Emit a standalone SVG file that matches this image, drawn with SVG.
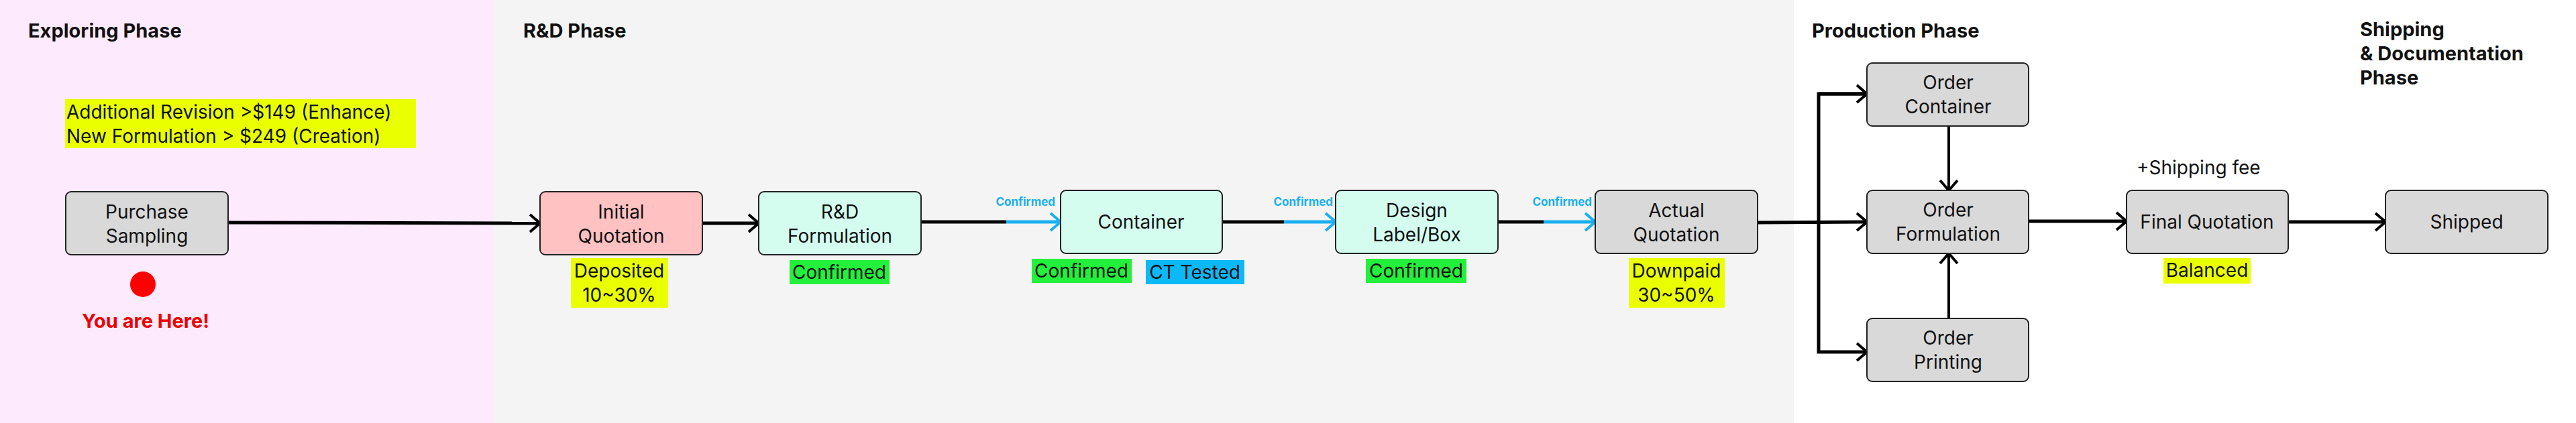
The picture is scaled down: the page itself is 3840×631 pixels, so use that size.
<svg xmlns="http://www.w3.org/2000/svg" width="3840" height="631" viewBox="0 0 3840 631">
<style>
text{font-family:Inter,"Noto Sans","Liberation Sans",sans-serif}
.ph{font-size:29px;font-weight:700;fill:#111}
.box{stroke:#222;stroke-width:2}
.g{fill:#d9d9d9}.m{fill:#d4fdf0}.p{fill:#ffc1c1}
.t{font-size:28px;fill:#111;text-anchor:middle}
.hl{font-size:28px;fill:#111}
.c{stroke:#000;stroke-width:5;fill:none}
.cb{stroke:#1ab0ef;stroke-width:5;fill:none}
.cf{font-size:17px;font-weight:700;fill:#1ab0ef;text-anchor:end}
</style>
<defs>
<marker id="a" viewBox="0 0 20 30" refX="18" refY="15" markerWidth="20" markerHeight="30" markerUnits="userSpaceOnUse" orient="auto"><path d="M3 2 L18 15 L3 28" fill="none" stroke="#000" stroke-width="4"/></marker>
<marker id="ab" viewBox="0 0 20 30" refX="18" refY="15" markerWidth="20" markerHeight="30" markerUnits="userSpaceOnUse" orient="auto"><path d="M3 2 L18 15 L3 28" fill="none" stroke="#1ab0ef" stroke-width="4"/></marker>
</defs>
<rect x="0" y="0" width="737" height="631" fill="#fdeafd"/>
<rect x="737" y="0" width="1937" height="631" fill="#f4f4f4"/>
<rect x="2674" y="0" width="1166" height="631" fill="#ffffff"/>
<g id="phases">
<text class="ph" x="42" y="56">Exploring Phase</text>
<text class="ph" x="780" y="56">R&amp;D Phase</text>
<text class="ph" x="2701" y="56">Production Phase</text>
<text class="ph" x="3518" y="54">Shipping</text>
<text class="ph" x="3518" y="90">&amp; Documentation</text>
<text class="ph" x="3518" y="126">Phase</text>
</g>
<g id="pricing">
<rect x="97" y="148" width="523" height="73" fill="#eaff00"/>
<text class="hl" x="99" y="177">Additional Revision &gt;$149 (Enhance)</text>
<text class="hl" x="99" y="213">New Formulation &gt; $249 (Creation)</text>
</g>
<g id="connectors">
<path class="c" d="M340 332 L805 333" marker-end="url(#a)"/>
<path class="c" d="M1047 333 L1131 333" marker-end="url(#a)"/>
<path class="c" d="M1373 331 L1500 331"/><path class="cb" d="M1500 331 L1581 331" marker-end="url(#ab)"/>
<path class="c" d="M1822 331 L1914 331"/><path class="cb" d="M1914 331 L1991 331" marker-end="url(#ab)"/>
<path class="c" d="M2233 331 L2301 331"/><path class="cb" d="M2301 331 L2378 331" marker-end="url(#ab)"/>
<path class="c" d="M2620 332 L2783 331" marker-end="url(#a)"/>
<path class="c" d="M2783 140 L2711 140 L2711 525 L2783 525" marker-end="url(#a)"/>
<path class="c" d="M2711 140 L2783 140" marker-end="url(#a)"/>
<path stroke="#000" stroke-width="4" fill="none" d="M2905 188 L2905 284" marker-end="url(#a)"/>
<path stroke="#000" stroke-width="4" fill="none" d="M2905 475 L2905 378" marker-end="url(#a)"/>
<path class="c" d="M3024 330 L3170 330" marker-end="url(#a)"/>
<path class="c" d="M3411 331 L3556 331" marker-end="url(#a)"/>
<text class="cf" x="1573" y="307">Confirmed</text>
<text class="cf" x="1987" y="307">Confirmed</text>
<text class="cf" x="2373" y="307">Confirmed</text>
</g>
<g id="purchase"><rect class="box g" x="98" y="286" width="242" height="94" rx="8"/>
<text class="t" x="219" y="326">Purchase</text><text class="t" x="219" y="362">Sampling</text>
<circle cx="213" cy="424" r="19" fill="#f00"/>
<text x="217" y="489" font-size="29" font-weight="700" fill="#e00" text-anchor="middle">You are Here!</text></g>
<g id="initial"><rect class="box p" x="805" y="286" width="242" height="94" rx="8"/>
<text class="t" x="926" y="326">Initial</text><text class="t" x="926" y="362">Quotation</text>
<rect x="851" y="385" width="145" height="74" fill="#eaff00"/>
<text class="t" x="923" y="414">Deposited</text><text class="t" x="923" y="450">10~30%</text></g>
<g id="rnd"><rect class="box m" x="1131" y="286" width="242" height="94" rx="8"/>
<text class="t" x="1252" y="326">R&amp;D</text><text class="t" x="1252" y="362">Formulation</text>
<rect x="1177" y="388" width="149" height="36" fill="#22f03a"/><text class="t" x="1251" y="416">Confirmed</text></g>
<g id="container"><rect class="box m" x="1581" y="284" width="241" height="94" rx="8"/>
<text class="t" x="1701" y="341">Container</text>
<rect x="1538" y="386" width="149" height="36" fill="#22f03a"/><text class="t" x="1612" y="414">Confirmed</text>
<rect x="1708" y="388" width="147" height="36" fill="#0cb8f5"/><text class="t" x="1781" y="416">CT Tested</text></g>
<g id="design"><rect class="box m" x="1991" y="284" width="242" height="94" rx="8"/>
<text class="t" x="2112" y="324">Design</text><text class="t" x="2112" y="360">Label/Box</text>
<rect x="2036" y="386" width="150" height="36" fill="#22f03a"/><text class="t" x="2111" y="414">Confirmed</text></g>
<g id="actual"><rect class="box g" x="2378" y="284" width="242" height="94" rx="8"/>
<text class="t" x="2499" y="324">Actual</text><text class="t" x="2499" y="360">Quotation</text>
<rect x="2428" y="385" width="143" height="74" fill="#eaff00"/>
<text class="t" x="2499" y="414">Downpaid</text><text class="t" x="2499" y="450">30~50%</text></g>
<g id="ordercontainer"><rect class="box g" x="2783" y="94" width="241" height="94" rx="8"/>
<text class="t" x="2904" y="133">Order</text><text class="t" x="2904" y="169">Container</text></g>
<g id="orderformulation"><rect class="box g" x="2783" y="284" width="241" height="94" rx="8"/>
<text class="t" x="2904" y="323">Order</text><text class="t" x="2904" y="359">Formulation</text></g>
<g id="orderprinting"><rect class="box g" x="2783" y="475" width="241" height="94" rx="8"/>
<text class="t" x="2904" y="514">Order</text><text class="t" x="2904" y="550">Printing</text></g>
<g id="final"><text class="hl" x="3185" y="260">+Shipping fee</text>
<rect class="box g" x="3170" y="284" width="241" height="94" rx="8"/>
<text class="t" x="3290" y="341">Final Quotation</text>
<rect x="3225" y="385" width="130" height="38" fill="#eaff00"/><text class="t" x="3290" y="413">Balanced</text></g>
<g id="shipped"><rect class="box g" x="3556" y="284" width="242" height="94" rx="8"/>
<text class="t" x="3677" y="341">Shipped</text></g>
</svg>
